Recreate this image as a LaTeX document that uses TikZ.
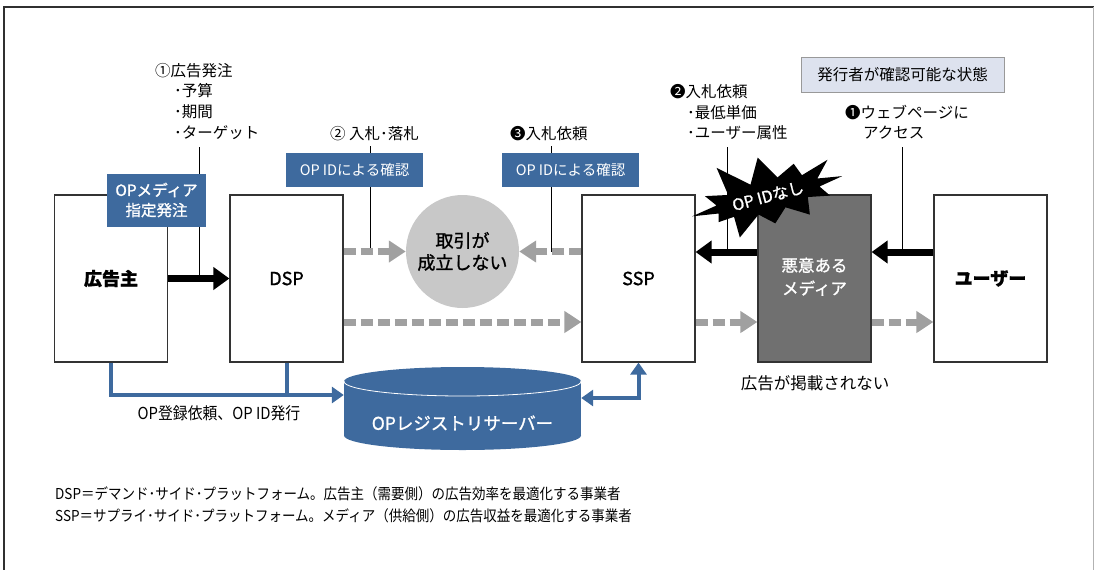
\documentclass[tikz,border=0pt]{standalone}
\usepackage{fontspec}
\setmainfont{Noto Sans CJK JP}
\newfontfamily\cond[FakeStretch=0.9]{Noto Sans CJK JP}
\newfontfamily\med[FakeBold=1.2]{Noto Sans CJK JP}
\usetikzlibrary{arrows.meta,shapes.symbols,shapes.geometric}
\definecolor{opblue}{HTML}{3E6A9E}
\definecolor{dashgray}{HTML}{A0A0A0}
\definecolor{malgray}{HTML}{707070}
\definecolor{circgray}{HTML}{C8C8C8}
\definecolor{pubfill}{HTML}{DDE2EE}
\definecolor{framegray}{HTML}{303030}
\newcommand{\fs}[2]{\fontsize{#1}{#2}\selectfont}
\newcommand{\dn}[1]{\raisebox{-4.5pt}{#1}}
\begin{document}
\begin{tikzpicture}[x=1pt,y=-1pt,
  mainbox/.style={draw=black!80, line width=1.2pt, fill=white, minimum width=113pt, minimum height=167pt, inner sep=0pt, font=\med\fs{18}{22}},
  bluebox/.style={fill=opblue, text=white, inner sep=0pt, align=center},
  gdash/.style={draw=dashgray, line width=7pt, dash pattern=on 12pt off 5pt, -{Triangle[length=17pt,width=21pt]}},
  blackarr/.style={draw=black, line width=7pt, -{Triangle[length=16pt,width=22pt]}},
  bluearr/.style={draw=opblue, line width=4pt, -{Triangle[length=12pt,width=16pt]}},
  bluedbl/.style={draw=opblue, line width=4pt, {Triangle[length=12pt,width=16pt]}-{Triangle[length=12pt,width=16pt]}},
  thinline/.style={draw=black, line width=1pt},
  lbl/.style={anchor=west, inner sep=0pt, font=\fs{15.5}{18}}
]
\useasboundingbox (0,0) rectangle (1094,570);
% frame
\draw[framegray, line width=1.5pt] (3,7) -- (1094,7);
\draw[framegray, line width=1.5pt] (4,7) -- (4,570);
\draw[black!30, line width=1pt] (1093,7) -- (1093,570);

% main boxes
\node[mainbox] (adv) at (111,278.5) {\dn{\bfseries 広告主}};
\node[mainbox] (dsp) at (286.5,278.5) {\dn{DSP}};
\node[mainbox] (ssp) at (638.5,278.5) {\dn{SSP}};
\node[mainbox, fill=malgray, text=white, font=\med\fs{16.5}{23}] (mal) at (814.5,278.5) {\dn{\begin{tabular}{@{}c@{}}悪意ある\\メディア\end{tabular}}};
\node[mainbox] (user) at (990.5,278.5) {\dn{\bfseries ユーザー}};

% circle
\node[circle, fill=circgray, minimum size=113pt, inner sep=0pt, align=center, font=\med\fs{18}{22}] (circ) at (462.5,251.5) {取引が\\成立しない};

% label anchor coordinates
\coordinate (t1) at (199,147);
\coordinate (t2) at (370,146);
\coordinate (t3) at (551,146);
\coordinate (t4) at (727,147);
\coordinate (t5) at (902,147);

% thin vertical lines
\draw[thinline] (t1) -- (t1 |- adv.east);
\draw[thinline] (t2) -- (t2 |- circ.west);
\draw[thinline] (t3) -- (t3 |- circ.east);
\draw[thinline] (t4) -- ([yshift=26.5pt]t4 |- ssp.east);
\draw[thinline] (t5) -- ([yshift=26.5pt]t5 |- ssp.east);

% blue boxes
\node[bluebox, minimum width=99pt, minimum height=53pt, font=\med\fs{15.5}{20}] (opm) at (156.5,200) {OPメディア\\指定発注};
\node[bluebox, minimum width=137pt, minimum height=34pt, font=\fs{14.5}{16}] (opid1) at (354.5,170) {OP IDによる確認};
\node[bluebox, minimum width=137pt, minimum height=34pt, font=\fs{14.5}{16}] (opid2) at (570.5,170) {OP IDによる確認};
\node[draw=black!40, line width=1pt, fill=pubfill, minimum width=203pt, minimum height=35pt, inner sep=0pt, font=\fs{15.5}{18}] (pub) at (902.5,74.5) {発行者が確認可能な状態};

% labels
\node[lbl] (l1a) at (155,71) {①広告発注};
\node[lbl] (l1b) at (174,91) {･予算};
\node[lbl] (l1c) at (174,112) {･期間};
\node[lbl] (l1d) at (174,133) {･ターゲット};
\node[lbl] (l2) at (330,134) {② 入札･落札};
\node[lbl] (l3) at (510,134) {❸入札依頼};
\node[lbl] (l4a) at (670,92) {❷入札依頼};
\node[lbl] (l4b) at (687,113) {･最低単価};
\node[lbl] (l4c) at (687,133) {･ユーザー属性};
\node[lbl] (l5a) at (845,113) {❶ウェブページに};
\node[lbl] (l5b) at (863,133) {アクセス};

% black arrows
\draw[blackarr] (adv.east) -- (dsp.west);
\draw[blackarr] ([yshift=26.5pt]mal.west) -- ([yshift=26.5pt]ssp.east);
\draw[blackarr] ([yshift=26.5pt]user.west) -- ([yshift=26.5pt]mal.east);

% gray dashed arrows
\draw[gdash] (dsp.east |- circ.west) -- (circ.west);
\draw[gdash] (ssp.west |- circ.east) -- (circ.east);
\draw[gdash] ([yshift=-43.5pt]dsp.east) -- ([yshift=-43.5pt]ssp.west);
\draw[gdash] ([yshift=-43.5pt]ssp.east) -- ([yshift=-43.5pt]mal.west);
\draw[gdash] ([yshift=-43.5pt]mal.east) -- ([yshift=-43.5pt]user.west);

% starburst
\node[starburst, fill=black, draw=none, text=white, rotate=15, starburst points=12, starburst point height=32pt, random starburst=11, minimum width=172pt, minimum height=96pt, inner sep=0pt, font=\med\fs{16}{18}] (noid) at (768,196) {OP IDなし};

% cylinder (registry server)
\node[minimum width=237pt, minimum height=83pt, inner sep=0pt] (cyl) at (462.5,408.5) {};
\fill[opblue] (344,381.5) rectangle (581,435.5);
\fill[opblue] (462.5,435.5) ellipse[x radius=118.5pt, y radius=14.5pt];
\fill[opblue] (462.5,381.5) ellipse[x radius=118.5pt, y radius=14.5pt];
\begin{scope}
  \clip (340,381.5) rectangle (585,400);
  \draw[white, line width=0.8pt] (462.5,381.5) ellipse[x radius=118.5pt, y radius=14.5pt];
\end{scope}
\node[text=white, inner sep=0pt, font=\med\fs{17.5}{20}] (cyltxt) at (462.5,423) {OPレジストリサーバー};

% blue connectors
\coordinate (cylL) at ([yshift=13.5pt]cyl.west);
\coordinate (cylR) at ([yshift=10.5pt]cyl.east);
\draw[bluearr] (adv.south) |- (cylL);
\draw[draw=opblue, line width=4pt] (dsp.south) -- (dsp.south |- cylL);
\draw[bluedbl] (cylR) -| (ssp.south);

% other texts
\node[inner sep=0pt, font=\cond\fs{16.5}{18}] (regtxt) at (219,413) {OP登録依頼、OP ID発行};
\node[inner sep=0pt, font=\fs{16.5}{20}] (noad) at (815,383) {広告が掲載されない};
\node[anchor=west, inner sep=0pt, font=\cond\fs{15}{18}] (fn1) at (55,494) {DSP＝デマンド･サイド･プラットフォーム。広告主（需要側）の広告効率を最適化する事業者};
\node[anchor=west, inner sep=0pt, font=\cond\fs{15}{18}] (fn2) at (55,516) {SSP＝サプライ･サイド･プラットフォーム。メディア（供給側）の広告収益を最適化する事業者};
\end{tikzpicture}
\end{document}
